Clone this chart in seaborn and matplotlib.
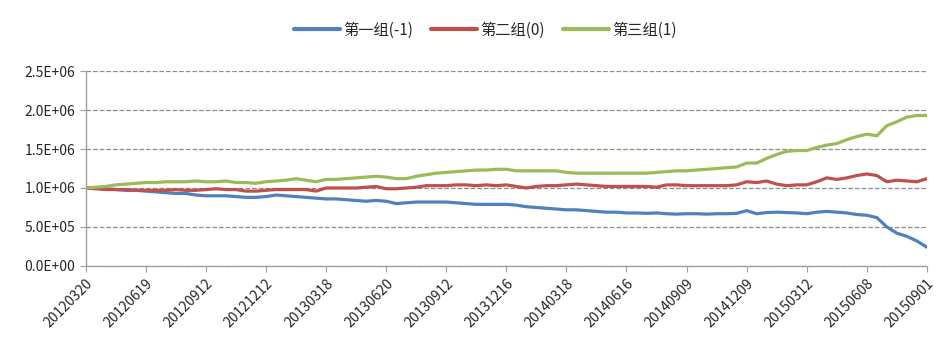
import numpy as np
import pandas as pd
import matplotlib
matplotlib.use("Agg")
import matplotlib.pyplot as plt
import seaborn as sns
from matplotlib.ticker import FuncFormatter

# tick labels (one every 60 trading days)
tick_dates = ['20120320', '20120619', '20120912', '20121212', '20130318',
              '20130620', '20130912', '20131216', '20140318', '20140616',
              '20140909', '20141209', '20150312', '20150608', '20150901']

# values every 10 trading days, in millions
group1 = [1.00, 1.00, 0.99, 0.98, 0.97, 0.97, 0.96, 0.95, 0.94, 0.93,
          0.93, 0.91, 0.90, 0.90, 0.90, 0.89, 0.88, 0.88, 0.89, 0.91,
          0.90, 0.89, 0.88, 0.87, 0.86, 0.86, 0.85, 0.84, 0.83, 0.84,
          0.83, 0.80, 0.81, 0.82, 0.82, 0.82, 0.82, 0.81, 0.80, 0.79,
          0.79, 0.79, 0.79, 0.78, 0.76, 0.75, 0.74, 0.73, 0.72, 0.72,
          0.71, 0.70, 0.69, 0.69, 0.68, 0.68, 0.675, 0.68, 0.67, 0.665,
          0.67, 0.67, 0.665, 0.67, 0.67, 0.675, 0.71, 0.67, 0.685, 0.69,
          0.685, 0.68, 0.67, 0.69, 0.70, 0.69, 0.68, 0.66, 0.65, 0.62,
          0.50, 0.42, 0.38, 0.32, 0.24]
group2 = [1.00, 0.99, 0.98, 0.98, 0.98, 0.97, 0.97, 0.97, 0.97, 0.98,
          0.97, 0.97, 0.98, 0.99, 0.98, 0.98, 0.96, 0.96, 0.97, 0.98,
          0.98, 0.98, 0.98, 0.96, 1.00, 1.00, 1.00, 1.00, 1.01, 1.02,
          0.99, 0.99, 1.00, 1.01, 1.03, 1.03, 1.03, 1.04, 1.04, 1.03,
          1.04, 1.03, 1.04, 1.02, 1.00, 1.02, 1.03, 1.03, 1.04, 1.05,
          1.04, 1.03, 1.02, 1.02, 1.02, 1.02, 1.02, 1.01, 1.04, 1.04,
          1.03, 1.03, 1.03, 1.03, 1.03, 1.04, 1.08, 1.07, 1.09, 1.05,
          1.03, 1.04, 1.04, 1.08, 1.13, 1.11, 1.13, 1.16, 1.18, 1.16,
          1.08, 1.10, 1.09, 1.08, 1.12]
group3 = [1.00, 1.01, 1.02, 1.04, 1.05, 1.06, 1.07, 1.07, 1.08, 1.08,
          1.08, 1.09, 1.08, 1.08, 1.09, 1.07, 1.07, 1.06, 1.08, 1.09,
          1.10, 1.12, 1.10, 1.08, 1.11, 1.11, 1.12, 1.13, 1.14, 1.15,
          1.14, 1.12, 1.12, 1.15, 1.17, 1.19, 1.20, 1.21, 1.22, 1.23,
          1.23, 1.24, 1.24, 1.22, 1.22, 1.22, 1.22, 1.22, 1.20, 1.19,
          1.19, 1.19, 1.19, 1.19, 1.19, 1.19, 1.19, 1.20, 1.21, 1.22,
          1.22, 1.23, 1.24, 1.25, 1.26, 1.27, 1.32, 1.32, 1.38, 1.43,
          1.47, 1.48, 1.48, 1.52, 1.55, 1.57, 1.62, 1.66, 1.69, 1.67,
          1.80, 1.85, 1.91, 1.93, 1.93]

labels = ['第一组(-1)', '第二组(0)', '第三组(1)']
colors = ['#4F81BD', '#C0504D', '#9BBB59']

day = np.arange(len(group1)) * 10
df = pd.DataFrame({
    'day': np.concatenate([day, day, day]),
    'value': np.array(group1 + group2 + group3) * 1e6,
    'group': np.repeat(labels, len(day)),
})

sns.set_style("white")
plt.rcParams['font.family'] = ['Noto Sans CJK SC', 'DejaVu Sans']

fig = plt.figure(figsize=(9.42, 3.57), dpi=100)
ax = fig.add_axes([0.091, 0.255, 0.893, 0.546])

sns.lineplot(data=df, x='day', y='value', hue='group', palette=colors,
             linewidth=2.3, ax=ax)

ax.set_xlim(0, 840)
ax.set_ylim(0, 2.5e6)
ax.set_yticks(np.arange(0, 2.6e6, 0.5e6))
ax.yaxis.set_major_formatter(FuncFormatter(lambda v, p: f"{v:.1E}"))
ax.set_xticks(np.arange(0, 841, 60))
ax.set_xticklabels(tick_dates, rotation=45, ha='right', rotation_mode='anchor')
ax.tick_params(axis='x', labelsize=10, length=4, color='#A0A0A0', direction='out', bottom=True)
ax.tick_params(axis='y', labelsize=10, length=4, color='#A0A0A0', direction='out', left=True)
ax.set_xlabel('')
ax.set_ylabel('')

ax.grid(axis='y', linestyle='--', color='#8C8C8C', linewidth=0.9)
ax.set_axisbelow(True)
for side in ['top', 'right']:
    ax.spines[side].set_visible(False)
for side in ['left', 'bottom']:
    ax.spines[side].set_color('#A0A0A0')
    ax.spines[side].set_linewidth(1.0)

leg = ax.legend(loc='center', bbox_to_anchor=(0.475, 1.21), ncol=3,
                frameon=False, fontsize=11, handlelength=3.0,
                columnspacing=1.2, handletextpad=0.2)
for line in leg.get_lines():
    line.set_linewidth(3)

fig.savefig('out.png', dpi=100)
